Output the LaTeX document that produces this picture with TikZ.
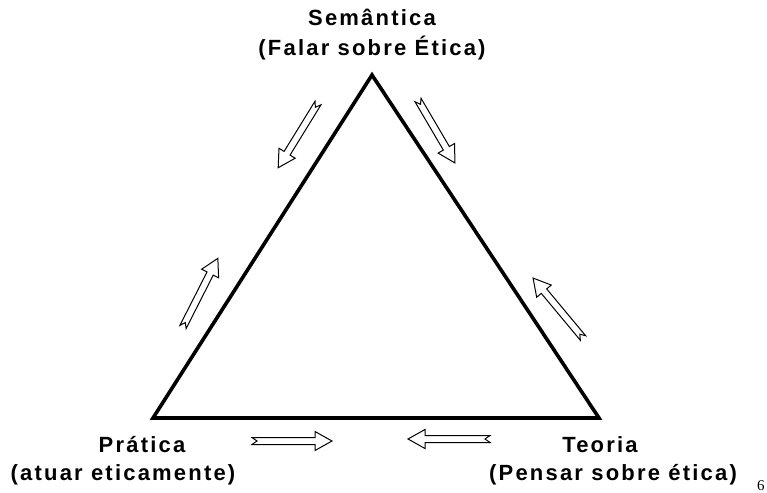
\documentclass[tikz,border=0pt]{standalone}
\usepackage{fontspec}
\setmainfont{Liberation Sans}
\newfontfamily\spacedfont[LetterSpace=10]{Liberation Sans}
\newfontfamily\pagenumfont{Liberation Serif}
\tikzset{
  edge/.style={line width=3.6pt, line join=miter, line cap=round},
  hollow/.style={draw=black, line width=1pt, fill=white, line join=miter},
  harrow/.pic={\path[hollow] (0,3.5) -- (#1-17,3.5) -- (#1-17,9.5) -- (#1,0) -- (#1-17,-9.5) -- (#1-17,-3.5) -- (0,-3.5) -- (5,0) -- cycle;},
  lbl/.style={font=\spacedfont\bfseries\fontsize{22}{26}\selectfont, anchor=base, inner sep=0pt},
}
\begin{document}
\begin{tikzpicture}[x=1pt,y=-1pt]
\useasboundingbox (0,0) rectangle (767,492);
% triangle
\coordinate (A) at (372,75);
\coordinate (B) at (153,418);
\coordinate (C) at (599,418);
\draw[edge] (A) -- (B) -- (C) -- cycle;
% hollow arrows
\coordinate (t1) at (318,103);
\coordinate (t2) at (418,100);
\coordinate (t3) at (183,327);
\coordinate (t4) at (583,338);
\coordinate (t5) at (252,441);
\coordinate (t6) at (490,439);
\pic[rotate=238.4] at (t1) {harrow=76};
\pic[rotate=-59.6] at (t2) {harrow=73};
\pic[rotate=63.1] at (t3) {harrow=77};
\pic[rotate=129.8] at (t4) {harrow=78};
\pic[rotate=0] at (t5) {harrow=80};
\pic[rotate=180] at (t6) {harrow=82};
% labels
\node[lbl] (sem) at (372,26) {Semântica};
\node[lbl] (sem2) at (372,56) {(Falar sobre Ética)};
\node[lbl] (pra) at (142,452) {Prática};
\node[lbl] (pra2) at (123,480) {(atuar eticamente)};
\node[lbl] (teo) at (600,452) {Teoria};
\node[lbl] (teo2) at (613,480) {(Pensar sobre ética)};
\node[font=\pagenumfont\fontsize{15}{18}\selectfont, anchor=base west, inner sep=0pt] (pg) at (757,490) {6};
\end{tikzpicture}
\end{document}
